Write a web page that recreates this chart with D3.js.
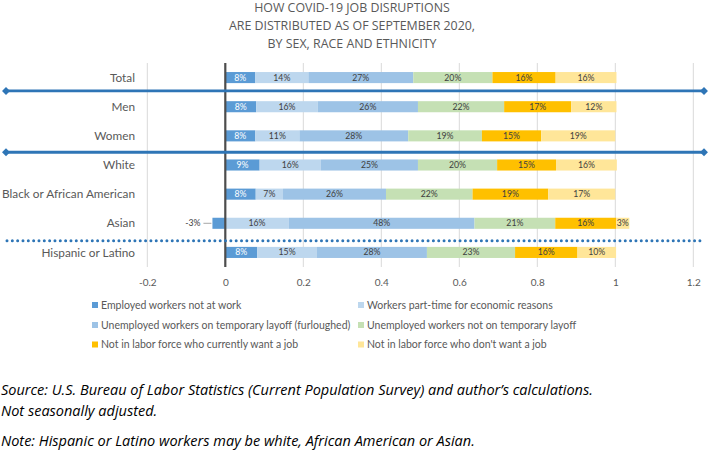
<!DOCTYPE html>
<html>
<head>
<meta charset="utf-8">
<script src="https://cdn.jsdelivr.net/npm/d3@7"></script>
<style>
  html, body { margin: 0; padding: 0; background: #fff; }
  svg { display: block; }
</style>
</head>
<body>
<svg id="chart" width="709" height="453"></svg>
<script>
// ---- data ----
const titleLines = ["HOW COVID-19 JOB DISRUPTIONS", "ARE DISTRIBUTED AS OF SEPTEMBER 2020,", "BY SEX, RACE AND ETHNICITY"];
const categories = ["Total", "Men", "Women", "White", "Black or African American", "Asian", "Hispanic or Latino"];
const seriesNames = [
  "Employed workers not at work",
  "Workers part-time for economic reasons",
  "Unemployed workers on temporary layoff (furloughed)",
  "Unemployed workers not on temporary layoff",
  "Not in labor force who currently want a job",
  "Not in labor force who don't want a job"
];
const employedNotAtWork   = [0.077, 0.079, 0.077, 0.088, 0.078, -0.033, 0.082];
const partTimeEconomic    = [0.136, 0.158, 0.113, 0.157, 0.070, 0.163, 0.153];
const tempLayoff          = [0.269, 0.257, 0.279, 0.249, 0.264, 0.476, 0.282];
const notTempLayoff       = [0.203, 0.221, 0.189, 0.203, 0.222, 0.207, 0.226];
const nilfWantJob         = [0.162, 0.172, 0.152, 0.151, 0.194, 0.156, 0.160];
const nilfDontWantJob     = [0.156, 0.116, 0.190, 0.156, 0.172, 0.034, 0.099];
const xTicks = [-0.2, 0, 0.2, 0.4, 0.6, 0.8, 1, 1.2];
const tickLabels = ["-0.2", "0", "0.2", "0.4", "0.6", "0.8", "1", "1.2"];
const sourceLines = [
  "Source:  U.S. Bureau of Labor Statistics (Current Population Survey) and author\u2019s calculations.",
  "Not seasonally adjusted.",
  "Note: Hispanic or Latino workers may be white, African American or Asian."
];

// ---- styles ----
const colors = ["#5B9BD5", "#BDD7EE", "#9DC3E6", "#C5E0B4", "#FFC000", "#FFE699"];
const labelColors = ["#ffffff", "#404040", "#404040", "#404040", "#404040", "#404040"];
const gray = "#595959";
const font = "Lato, 'Open Sans', sans-serif";

const allSeries = [employedNotAtWork, partTimeEconomic, tempLayoff, notTempLayoff, nilfWantJob, nilfDontWantJob];
const rows = categories.map((c, i) => {
  const r = { cat: c };
  seriesNames.forEach((s, j) => r[s] = allSeries[j][i]);
  return r;
});

const svg = d3.select("#chart");

const x = d3.scaleLinear().domain([-0.2, 1.2]).range([147.3, 693.3]);
const y = d3.scaleBand().domain(categories).range([63, 267]).paddingInner(0.62).paddingOuter(0.31);

// title
svg.append("g").selectAll("text").data(titleLines).join("text")
  .attr("x", 352).attr("y", (d, i) => 11.5 + i * 18)
  .attr("text-anchor", "middle")
  .attr("font-family", "'Open Sans', sans-serif").attr("font-size", 12.4)
  .attr("fill", gray).text(d => d);

// gridlines
svg.append("g").selectAll("line").data(xTicks.filter(t => t !== 0)).join("line")
  .attr("x1", d => x(d)).attr("x2", d => x(d))
  .attr("y1", 63).attr("y2", 267)
  .attr("stroke", "#D9D9D9").attr("stroke-width", 1);

// stacked bars
const stack = d3.stack().keys(seriesNames).offset(d3.stackOffsetDiverging);
const stacked = stack(rows);

const gBars = svg.append("g");
stacked.forEach((layer, j) => {
  gBars.append("g").attr("fill", colors[j]).selectAll("rect").data(layer).join("rect")
    .attr("x", d => x(Math.min(d[0], d[1])))
    .attr("width", d => Math.abs(x(d[1]) - x(d[0])))
    .attr("y", d => y(d.data.cat))
    .attr("height", y.bandwidth());
});

// bar labels
const fmt = v => Math.round(v * 100) + "%";
stacked.forEach((layer, j) => {
  layer.forEach(d => {
    const v = d.data[seriesNames[j]];
    const x0 = x(Math.min(d[0], d[1])), x1 = x(Math.max(d[0], d[1]));
    const cy = y(d.data.cat) + y.bandwidth() / 2;
    if (v < 0) {
      svg.append("line").attr("x1", x0 - 9).attr("x2", x0 - 1)
        .attr("y1", cy).attr("y2", cy).attr("stroke", "#A6A6A6").attr("stroke-width", 1);
      svg.append("text").attr("x", x0 - 12).attr("y", cy).attr("dy", "0.35em")
        .attr("text-anchor", "end").attr("font-family", font).attr("font-size", 8.7)
        .attr("fill", "#404040").text(fmt(v));
    } else {
      svg.append("text").attr("x", (x0 + x1) / 2).attr("y", cy).attr("dy", "0.35em")
        .attr("text-anchor", "middle").attr("font-family", font).attr("font-size", 8.7)
        .attr("fill", labelColors[j]).text(fmt(v));
    }
  });
});

// zero axis line
svg.append("line").attr("x1", x(0)).attr("x2", x(0)).attr("y1", 63).attr("y2", 267)
  .attr("stroke", "#4D4D4D").attr("stroke-width", 2.2);

// category labels
svg.append("g").selectAll("text").data(categories).join("text")
  .attr("x", 135).attr("y", d => y(d) + y.bandwidth() / 2).attr("dy", "0.35em")
  .attr("text-anchor", "end").attr("font-family", font).attr("font-size", 11.8)
  .attr("fill", gray).text(d => d);

// x axis tick labels
const xAxis = d3.axisBottom(x).tickValues(xTicks).tickSize(0).tickPadding(0)
  .tickFormat((d, i) => tickLabels[i]);
const gx = svg.append("g").attr("transform", "translate(0,278.5)").call(xAxis);
gx.select(".domain").remove();
gx.selectAll("text").attr("font-family", font).attr("font-size", 10).attr("fill", gray);

// separator lines
const blue = "#2E75B6";
const gap = (a, b) => (y(a) + y.bandwidth() + y(b)) / 2;
const sepSolid = [gap("Total", "Men") - 1.2, gap("Women", "White") + 1.8];
sepSolid.forEach(yy => {
  svg.append("line").attr("x1", 6).attr("x2", 704).attr("y1", yy).attr("y2", yy)
    .attr("stroke", blue).attr("stroke-width", 2.8);
  [6, 704].forEach(xx => {
    svg.append("path").attr("d", d3.symbol(d3.symbolDiamond2, 40)())
      .attr("transform", `translate(${xx},${yy})`).attr("fill", blue);
  });
});
const sepDot = gap("Asian", "Hispanic or Latino") + 3;
svg.append("line").attr("x1", 7).attr("x2", 700).attr("y1", sepDot).attr("y2", sepDot)
  .attr("stroke", blue).attr("stroke-width", 3).attr("stroke-linecap", "round")
  .attr("stroke-dasharray", "0 5.33");

// legend
const legendCols = [92, 358];
const legendRows = [305, 325, 344.5];
const gLeg = svg.append("g");
seriesNames.forEach((s, j) => {
  const lx = legendCols[j % 2], ly = legendRows[Math.floor(j / 2)];
  gLeg.append("rect").attr("x", lx).attr("y", ly - 3).attr("width", 6).attr("height", 6).attr("fill", colors[j]);
  gLeg.append("text").attr("x", lx + 9).attr("y", ly).attr("dy", "0.35em")
    .attr("font-family", font).attr("font-size", 10.5).attr("fill", gray).text(s);
});

// source notes
svg.append("g").selectAll("text").data(sourceLines).join("text")
  .attr("x", 1).attr("y", (d, i) => [395, 416, 446][i])
  .attr("font-family", "'Open Sans', sans-serif").attr("font-style", "italic").attr("font-size", 14.5)
  .attr("fill", "#000").text(d => d);
</script>
</body>
</html>
